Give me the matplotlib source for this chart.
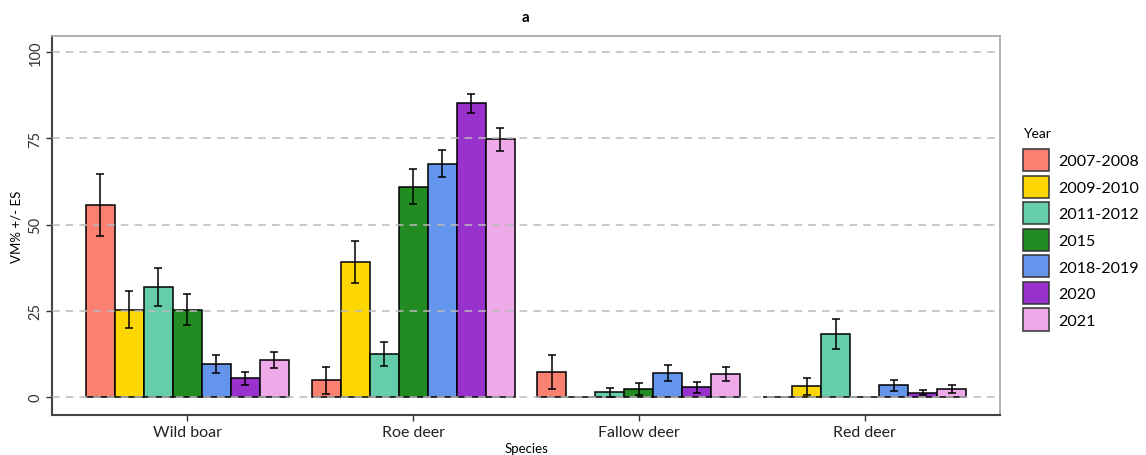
import matplotlib
matplotlib.use("Agg")
import matplotlib.pyplot as plt
import numpy as np
from matplotlib.patches import Patch

plt.rcParams['font.family'] = ['Lato', 'DejaVu Sans']

species = ["Wild boar", "Roe deer", "Fallow deer", "Red deer"]
years = ["2007-2008", "2009-2010", "2011-2012", "2015", "2018-2019", "2020", "2021"]
colors = ["#FA8072", "#FFD700", "#66CDAA", "#228B22", "#6495ED", "#9932CC", "#EEAAE8"]

# values per year (rows) for each species (columns)
v_2007_2008 = [55.7, 4.9, 7.2, 0.0]
v_2009_2010 = [25.3, 39.3, 0.0, 3.1]
v_2011_2012 = [31.8, 12.5, 1.4, 18.3]
v_2015 = [25.3, 61.0, 2.4, 0.0]
v_2018_2019 = [9.6, 67.7, 7.1, 3.4]
v_2020 = [5.4, 85.2, 2.9, 1.3]
v_2021 = [10.8, 74.7, 6.7, 2.4]

e_2007_2008 = [9.0, 3.9, 5.0, 0.0]
e_2009_2010 = [5.4, 6.1, 0.0, 2.4]
e_2011_2012 = [5.5, 3.5, 1.3, 4.4]
e_2015 = [4.5, 5.1, 1.8, 0.0]
e_2018_2019 = [2.6, 3.8, 2.3, 1.6]
e_2020 = [1.8, 2.8, 1.6, 0.8]
e_2021 = [2.4, 3.3, 2.0, 1.2]

values = [v_2007_2008, v_2009_2010, v_2011_2012, v_2015, v_2018_2019, v_2020, v_2021]
errors = [e_2007_2008, e_2009_2010, e_2011_2012, e_2015, e_2018_2019, e_2020, e_2021]

W, H = 1146, 456
fig = plt.figure(figsize=(W / 100, H / 100), dpi=100)
ax = fig.add_axes([52 / W, (H - 416) / H, (1000 - 52) / W, (416 - 37) / H])

x = np.arange(1, len(species) + 1)
n = len(years)
total = 0.9
bw = total / n
for i, (vals, errs, c, lab) in enumerate(zip(values, errors, colors, years)):
    pos = x - total / 2 + bw * (i + 0.5)
    ax.bar(pos, vals, width=bw, color=c, edgecolor="black", linewidth=1.1, zorder=2, label=lab)
    ev = np.array(errs)
    mask = ev > 0
    ax.errorbar(pos[mask], np.array(vals)[mask], yerr=ev[mask], fmt="none", ecolor="black",
                elinewidth=1.1, capsize=3, capthick=1.1, zorder=3)

ax.set_xlim(0.4, 4.6)
ax.set_ylim(-5.2, 104.7)
ax.set_yticks([0, 25, 50, 75, 100])
ax.set_xticks(x)
ax.set_xticklabels(species, fontsize=11.5, color="#222222")
for t in ax.get_yticklabels():
    t.set_rotation(90)
    t.set_va("center")
    t.set_fontsize(10.5)
    t.set_color("#333333")
ax.yaxis.grid(True, linestyle=(0, (5, 4)), color="#BBBBBB", linewidth=1.1, zorder=4)
ax.set_axisbelow(False)
ax.tick_params(axis="both", length=4, width=1, color="#333333")
ax.tick_params(axis="y", pad=3)

for s in ["left", "bottom"]:
    ax.spines[s].set_color("#444444")
    ax.spines[s].set_linewidth(1.5)
for s in ["top", "right"]:
    ax.spines[s].set_color("#AAAAAA")
    ax.spines[s].set_linewidth(1.3)

ax.set_ylabel("VM% +/- ES", fontsize=9.5, labelpad=4)
ax.set_xlabel("Species", fontsize=9.5, labelpad=2)
ax.set_title("a", fontsize=11, fontweight="bold", pad=11)

handles = [Patch(facecolor=c, edgecolor="#333333", linewidth=1.1, label=l) for c, l in zip(colors, years)]
leg = fig.legend(handles=handles, title="Year", loc="upper left",
                 bbox_to_anchor=(1017 / W, 1 - 122 / H), frameon=False,
                 fontsize=11.5, title_fontsize=10, handlelength=1.6, handleheight=1.75,
                 labelspacing=0.28, handletextpad=0.6, borderaxespad=0)
leg._legend_box.align = "left"
leg._legend_box.sep = 7

fig.savefig("out.png", dpi=100)
